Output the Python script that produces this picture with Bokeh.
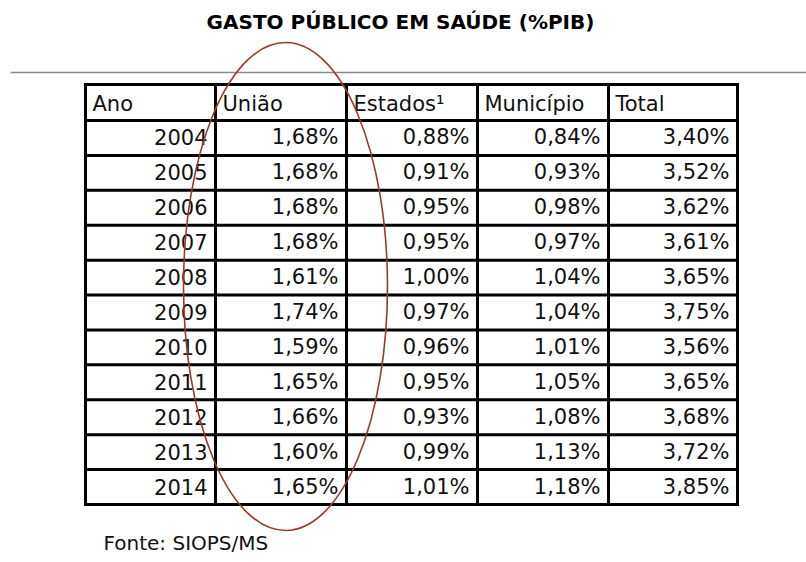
from bokeh.plotting import figure
from bokeh.models import Range1d
from bokeh.core.properties import value
from bokeh.embed import file_html
from bokeh.resources import INLINE

title = "GASTO PÚBLICO EM SAÚDE (%PIB)"
source_note = "Fonte: SIOPS/MS"
headers = ["Ano", "União", "Estados¹", "Município", "Total"]
years = [2004, 2005, 2006, 2007, 2008, 2009, 2010, 2011, 2012, 2013, 2014]
uniao = [1.68, 1.68, 1.68, 1.68, 1.61, 1.74, 1.59, 1.65, 1.66, 1.60, 1.65]
estados = [0.88, 0.91, 0.95, 0.95, 1.00, 0.97, 0.96, 0.95, 0.93, 0.99, 1.01]
municipio = [0.84, 0.93, 0.98, 0.97, 1.04, 1.04, 1.01, 1.05, 1.08, 1.13, 1.18]
total = [3.40, 3.52, 3.62, 3.61, 3.65, 3.75, 3.56, 3.65, 3.68, 3.72, 3.85]

W, H = 806, 556
p = figure(width=W, height=H, output_backend="svg", toolbar_location=None,
           x_range=Range1d(0, W), y_range=Range1d(H, 0),
           min_border=0, outline_line_color=None)
p.xaxis.visible = False
p.yaxis.visible = False
p.grid.visible = False
p.background_fill_color = "white"
p.border_fill_color = "white"

FONT = value("DejaVu Sans")
TXT = "#111111"
DY = -8  # baseline compensation

# title
p.text(x=[400], y=[29 + DY], text=[title], text_font=FONT, text_font_size="20px",
       text_font_style="bold", text_align="center", text_baseline="alphabetic",
       text_color="#000000")

# gray rule
p.segment(x0=[10], y0=[72], x1=[806], y1=[72], line_color="#8a8a8a", line_width=1.5)

# table grid
col_x = [85, 215, 346, 477, 608, 737]
top, head_bottom, bottom = 84, 120, 504
n = len(years)
rh = (bottom - head_bottom) / n
row_y = [top, head_bottom] + [head_bottom + rh * (i + 1) for i in range(n)]

p.segment(x0=[col_x[0] - 1.5] * len(row_y), y0=row_y, x1=[col_x[-1] + 1.5] * len(row_y), y1=row_y,
          line_color="black", line_width=3)
p.segment(x0=col_x, y0=[top] * len(col_x), x1=col_x, y1=[bottom] * len(col_x),
          line_color="black", line_width=3)

# header
p.text(x=[c + 7 for c in col_x[:-1]], y=[head_bottom - 9 + DY] * 5, text=headers,
       text_font=FONT, text_font_size="21px", text_align="left",
       text_baseline="alphabetic", text_color=TXT)

def fmt(v):
    return f"{v:.2f}%".replace(".", ",")

columns = [[str(y) for y in years], [fmt(v) for v in uniao], [fmt(v) for v in estados],
           [fmt(v) for v in municipio], [fmt(v) for v in total]]
xs, ys, ts = [], [], []
for ci, col in enumerate(columns):
    for ri, t in enumerate(col):
        xs.append(col_x[ci + 1] - 8)
        ys.append(head_bottom + rh * (ri + 1) - 10 + DY)
        ts.append(t)
p.text(x=xs, y=ys, text=ts, text_font=FONT, text_font_size="21px",
       text_align="right", text_baseline="alphabetic", text_color=TXT)

# footnote
p.text(x=[103], y=[550 + DY], text=[source_note], text_font=FONT, text_font_size="20px",
       text_align="left", text_baseline="alphabetic", text_color=TXT)

# highlight ellipse around União column
p.ellipse(x=[285], y=[286], width=204, height=488, fill_alpha=0,
          line_color="#9c3a28", line_width=1.6)

open("out.html", "w").write(file_html(p, INLINE))
